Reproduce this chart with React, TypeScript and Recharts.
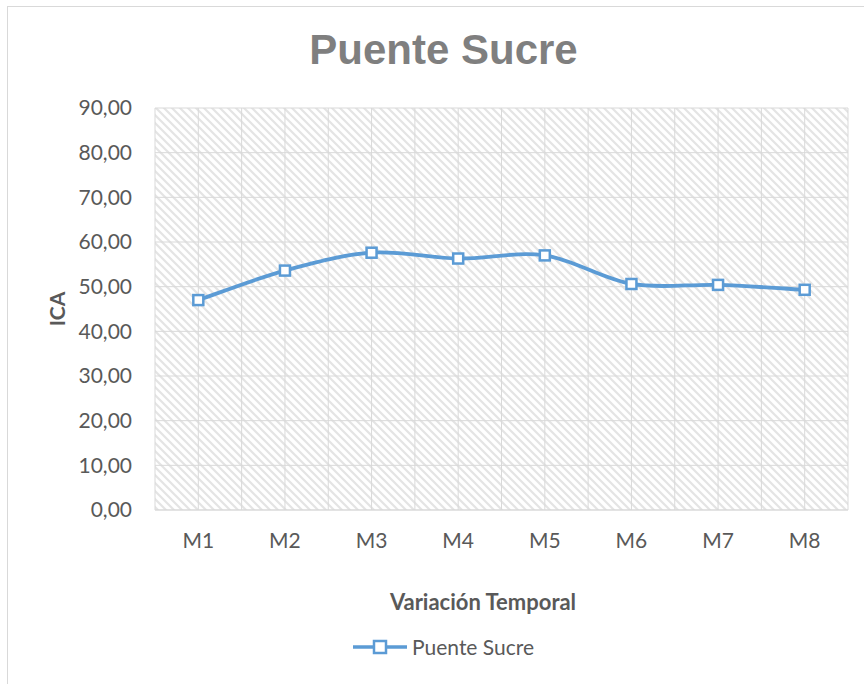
import React from 'react';
import { LineChart, Line, XAxis, YAxis, CartesianGrid, Legend } from 'recharts';

const categories = ['M1', 'M2', 'M3', 'M4', 'M5', 'M6', 'M7', 'M8'];
const positions = [1, 2, 3, 4, 5, 6, 7, 8];
const icaValues = [47.0, 53.6, 57.6, 56.3, 57.0, 50.6, 50.4, 49.3];
const yTicks = [0, 10, 20, 30, 40, 50, 60, 70, 80, 90];
const gridTicks = [0.5, 1, 1.5, 2, 2.5, 3, 3.5, 4, 4.5, 5, 5.5, 6, 6.5, 7, 7.5, 8, 8.5];
const seriesName = 'Puente Sucre';
const chartTitle = 'Puente Sucre';
const xTitle = 'Variación Temporal';
const yTitle = 'ICA';

const data = positions.map((x, i) => ({ x, name: categories[i], ica: icaValues[i] }));

const BLUE = '#5b9bd5';
const TXT = '#595959';
const GRID = '#d9d9d9';
const FONT = 'Lato, "Noto Sans", sans-serif';

// Excel-like smoothed line (Catmull-Rom style bezier)
function excelCurve(context: any) {
  let pts: number[][] = [];
  return {
    areaStart() {},
    areaEnd() {},
    lineStart() {
      pts = [];
    },
    point(x: number, y: number) {
      pts.push([+x, +y]);
    },
    lineEnd() {
      if (!pts.length) return;
      context.moveTo(pts[0][0], pts[0][1]);
      for (let i = 0; i < pts.length - 1; i++) {
        const p0 = pts[i - 1] || pts[i];
        const p1 = pts[i];
        const p2 = pts[i + 1];
        const p3 = pts[i + 2] || p2;
        const c1x = p1[0] + (p2[0] - p0[0]) / 6;
        const c1y = p1[1] + (p2[1] - p0[1]) / 6;
        const c2x = p2[0] - (p3[0] - p1[0]) / 6;
        const c2y = p2[1] - (p3[1] - p1[1]) / 6;
        context.bezierCurveTo(c1x, c1y, c2x, c2y, p2[0], p2[1]);
      }
    },
  };
}

const SquareDot = (props: any) => {
  const { cx, cy, index } = props;
  if (cx == null || cy == null) return null;
  return (
    <rect
      key={`dot-${index}`}
      x={cx - 5}
      y={cy - 5}
      width={10}
      height={10}
      fill="#ffffff"
      stroke={BLUE}
      strokeWidth={2.5}
    />
  );
};

const LegendContent = () => (
  <div style={{ height: 24, display: 'flex', alignItems: 'center', paddingLeft: 353 }}>
    <svg width={54} height={24}>
      <line x1={0} y1={12} x2={54} y2={12} stroke={BLUE} strokeWidth={3.5} />
      <rect x={21} y={6} width={12} height={12} fill="#fff" stroke={BLUE} strokeWidth={2.5} />
    </svg>
    <span style={{ marginLeft: 5, fontFamily: FONT, fontSize: 21, color: TXT, lineHeight: '24px' }}>{seriesName}</span>
  </div>
);

export default function App() {
  return (
    <div style={{ position: 'absolute', left: 0, top: 0, width: 864, height: 684, overflow: 'hidden', background: '#fff' }}>
      <div
        style={{
          position: 'absolute',
          left: 7,
          top: 6,
          width: 900,
          height: 700,
          borderTop: `1px solid ${GRID}`,
          borderLeft: `1px solid ${GRID}`,
        }}
      />
      <svg style={{ position: 'absolute', left: 0, top: 0 }} width={864} height={100}>
        <text
          x={443.5}
          y={64}
          textAnchor="middle"
          fontFamily='"Liberation Sans", Arial, sans-serif'
          fontWeight="bold"
          fontSize={42}
          fill="#7f7f7f"
        >
          {chartTitle}
        </text>
      </svg>
      <div style={{ position: 'absolute', left: 0, top: 0 }}>
        <LineChart width={864} height={684} data={data} margin={{ top: 108, right: 16, bottom: 25, left: 0 }}>
          <defs>
            <pattern id="hatch" patternUnits="userSpaceOnUse" width={8} height={8}>
              <rect x={0} y={0} width={8} height={8} fill="#ffffff" />
              <path d="M-2,-2 L10,10 M-2,6 L2,10 M6,-2 L10,2" stroke="#e4e4e4" strokeWidth={2.2} />
            </pattern>
          </defs>
          <CartesianGrid
            xAxisId="grid"
            stroke={GRID}
            strokeWidth={1}
            fill="url(#hatch)"
            fillOpacity={1}
          />
          <XAxis
            xAxisId="grid"
            type="number"
            dataKey="x"
            domain={[0.5, 8.5]}
            ticks={gridTicks}
            hide
          />
          <XAxis
            type="number"
            dataKey="x"
            domain={[0.5, 8.5]}
            ticks={positions}
            interval={0}
            tickFormatter={(v: number) => categories[v - 1]}
            axisLine={{ stroke: GRID, strokeWidth: 1 }}
            tickLine={false}
            tickSize={0}
            tickMargin={23}
            height={125}
            tick={{ fill: TXT, fontFamily: FONT, fontSize: 21 }}
            label={{
              content: (p: any) => {
                const vb = p.viewBox;
                return (
                  <text
                    x={483}
                    y={vb.y + 100}
                    textAnchor="middle"
                    fontFamily={FONT}
                    fontWeight="bold"
                    fontSize={22}
                    fill={TXT}
                  >
                    {xTitle}
                  </text>
                );
              },
            }}
          />
          <YAxis
            domain={[0, 90]}
            ticks={yTicks}
            interval={0}
            width={155}
            axisLine={false}
            tickLine={false}
            tickSize={0}
            tickMargin={23}
            tickFormatter={(v: number) => v.toFixed(2).replace('.', ',')}
            tick={{ fill: TXT, fontFamily: FONT, fontSize: 21 }}
            label={{
              content: (p: any) => {
                const vb = p.viewBox;
                const cy = vb.y + vb.height / 2;
                return (
                  <text
                    x={56}
                    y={cy}
                    transform={`rotate(-90, 56, ${cy})`}
                    textAnchor="middle"
                    dominantBaseline="central"
                    fontFamily={FONT}
                    fontWeight="bold"
                    fontSize={21}
                    fill={TXT}
                  >
                    {yTitle}
                  </text>
                );
              },
            }}
          />
          <Legend
            verticalAlign="bottom"
            wrapperStyle={{ left: 0, width: 864 }}
            content={() => <LegendContent />}
          />
          <Line
            dataKey="ica"
            name={seriesName}
            stroke={BLUE}
            strokeWidth={3.8}
            type={excelCurve as any}
            dot={SquareDot}
            activeDot={false}
            isAnimationActive={false}
          />
        </LineChart>
      </div>
    </div>
  );
}
